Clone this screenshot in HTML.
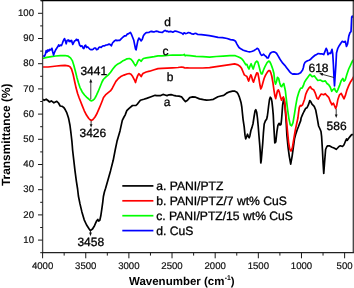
<!DOCTYPE html>
<html><head><meta charset="utf-8"><style>
html,body{margin:0;padding:0;background:#fff;width:354px;height:288px;overflow:hidden;}
svg{display:block;font-family:"Liberation Sans",sans-serif;will-change:transform;text-rendering:geometricPrecision;}
</style></head><body><svg width="354" height="288" viewBox="0 0 354 288"><rect x="0" y="0" width="354" height="288" fill="#fff"/><defs><clipPath id="pc"><rect x="42.6" y="0" width="311" height="253"/></clipPath></defs><g clip-path="url(#pc)"><polyline fill="none" stroke="#000000" stroke-width="1.7" stroke-linejoin="round" stroke-linecap="round" points="42.50,99.30 44.10,100.30 46.20,99.20 47.90,100.50 49.60,102.00 51.30,100.90 53.90,102.80 56.80,101.30 58.50,103.00 60.20,106.00 62.30,106.40 64.00,107.70 65.30,109.80 66.60,112.30 67.60,115.20 68.50,118.00 69.00,120.40 70.00,125.50 70.70,130.90 71.30,136.00 71.90,141.30 72.30,146.00 72.60,150.00 73.80,160.40 75.00,170.90 76.40,181.30 77.60,189.00 78.40,196.00 80.00,203.90 81.90,211.90 84.20,219.80 86.60,225.00 89.20,229.00 90.30,230.60 92.50,229.00 94.50,225.70 96.50,221.10 97.80,219.50 98.70,221.10 99.80,220.40 100.80,215.80 101.80,209.20 102.70,202.60 103.40,196.50 104.40,192.00 105.60,188.30 107.60,181.30 110.50,170.90 113.20,160.30 115.20,150.00 117.00,141.30 120.00,130.90 122.30,120.40 124.00,117.00 125.10,115.10 126.80,110.60 129.10,108.30 132.50,105.50 135.90,105.50 137.60,103.80 140.40,100.20 143.80,99.30 146.60,98.40 151.10,96.80 155.10,95.30 156.80,95.70 160.20,95.70 163.00,94.40 165.00,95.00 167.00,95.60 169.00,94.80 171.00,94.60 173.50,95.30 176.00,95.80 179.00,96.20 181.50,96.80 183.70,99.60 185.50,101.60 187.50,100.20 189.70,97.60 192.60,96.90 195.60,97.20 199.50,98.90 203.50,99.70 206.50,100.20 209.40,100.00 213.40,99.30 217.90,96.80 220.80,96.00 223.70,95.40 225.20,94.30 226.60,93.10 229.60,91.80 232.50,91.20 234.90,91.20 236.90,92.20 238.10,94.00 239.20,96.60 240.20,99.70 241.10,102.80 241.80,107.00 242.30,112.00 243.10,119.60 244.20,126.90 245.00,135.20 245.70,138.90 246.80,136.25 247.50,134.20 248.30,136.25 249.20,137.80 249.90,135.70 250.90,130.50 252.00,127.40 253.00,123.75 254.10,116.50 255.10,110.70 255.80,109.70 256.70,112.30 257.50,118.50 258.20,126.00 259.00,136.25 259.80,145.60 260.30,152.90 260.80,163.00 261.30,160.00 261.90,152.90 262.70,143.50 263.40,133.00 264.20,124.00 265.50,120.60 266.60,119.20 267.30,116.50 267.90,112.00 268.60,106.00 269.50,99.50 270.30,97.20 271.20,98.25 271.90,101.40 272.60,107.60 273.25,114.90 273.75,125.00 274.80,143.00 275.80,142.00 276.90,131.70 277.90,125.40 279.00,123.30 280.00,125.00 281.00,124.40 281.60,119.00 282.00,113.90 282.60,105.50 283.40,100.30 283.90,99.30 284.50,102.00 285.10,107.60 285.75,116.00 286.30,124.00 286.90,135.40 288.10,147.60 289.30,156.30 290.70,164.10 292.10,156.30 293.30,147.60 294.50,138.90 295.90,133.65 297.30,129.50 298.50,126.50 299.40,124.00 300.70,120.60 301.10,118.00 302.60,114.40 304.00,111.50 305.50,108.60 306.90,107.80 308.40,104.90 309.80,100.60 310.60,101.30 312.00,104.20 314.20,106.40 315.70,110.00 317.10,117.30 318.60,126.00 320.00,129.00 321.00,131.50 321.60,136.50 322.50,151.00 323.10,163.50 323.75,173.50 324.60,162.00 325.60,149.50 326.90,146.50 327.90,145.80 329.30,145.80 332.00,147.20 334.00,148.00 336.20,149.30 337.60,148.00 339.00,146.50 340.40,145.80 342.50,146.50 343.90,145.00 345.25,141.70 346.60,138.90 347.30,140.30 348.70,138.20 350.40,136.10 351.50,134.70 353.30,134.70"/><polyline fill="none" stroke="#ff0000" stroke-width="1.7" stroke-linejoin="round" stroke-linecap="round" points="42.50,67.00 48.00,67.00 52.50,66.50 56.70,66.00 60.80,65.60 65.00,65.40 68.00,65.80 70.00,66.70 71.50,69.00 73.10,74.30 74.60,81.20 76.10,88.10 77.60,93.50 79.20,98.00 80.30,100.80 82.10,105.40 84.30,110.80 86.60,115.30 88.80,118.50 90.20,119.80 91.40,120.40 92.60,119.80 93.80,118.50 95.00,117.00 96.00,115.30 97.20,113.00 98.30,110.40 99.50,107.60 100.60,105.00 101.60,102.50 102.50,100.20 103.50,97.50 105.50,94.90 107.90,92.90 110.40,90.90 111.50,89.50 112.30,88.20 113.50,85.80 115.90,81.40 118.40,78.50 120.80,76.60 124.00,75.10 127.00,74.00 129.30,73.50 131.00,74.30 132.70,76.60 134.40,79.80 135.50,82.50 136.60,78.60 137.80,75.40 138.90,73.70 140.00,74.90 141.20,76.60 142.30,74.30 143.40,73.20 146.20,72.00 149.60,71.20 154.20,69.80 158.00,68.60 162.00,68.30 172.50,67.80 178.00,67.50 181.50,67.00 183.50,67.40 185.00,68.00 187.00,67.80 190.00,68.00 196.00,68.00 202.80,68.00 209.60,67.60 216.30,66.60 223.10,65.60 229.90,64.60 234.60,63.90 238.00,64.90 240.20,66.50 241.70,68.60 242.80,71.25 244.30,74.90 245.90,75.90 246.90,76.50 248.00,79.60 248.70,81.10 249.75,77.50 250.80,74.90 251.60,76.50 252.70,80.60 253.50,82.20 254.50,79.00 255.80,75.40 256.80,72.80 257.90,73.30 258.90,78.50 260.00,85.30 260.80,89.00 261.80,86.90 262.90,82.70 264.10,78.50 265.20,75.90 266.00,74.40 267.10,72.60 268.70,70.50 269.70,70.50 270.80,72.60 271.80,76.25 272.90,82.50 273.90,89.80 274.90,96.00 275.70,98.60 276.50,95.00 277.50,90.80 278.40,89.80 279.40,92.40 280.50,97.10 281.50,100.20 282.50,98.10 283.40,97.00 284.30,99.70 284.80,103.30 285.50,110.60 286.30,118.00 287.20,128.00 288.60,142.30 289.80,149.30 291.00,151.00 292.40,147.60 293.80,138.90 295.30,130.20 296.50,124.50 297.90,118.00 298.60,112.30 299.30,107.40 300.40,105.40 301.40,105.90 302.50,104.90 303.50,102.30 304.60,99.20 305.70,94.40 307.30,90.70 308.85,88.10 310.40,86.60 311.50,88.60 312.50,89.20 313.70,89.80 315.30,93.20 317.00,98.20 318.30,99.00 319.50,96.50 321.20,94.00 323.70,94.80 325.30,93.70 327.00,95.70 328.70,97.30 330.30,101.50 332.00,104.80 333.30,103.20 334.50,105.70 335.70,108.40 336.70,105.70 337.80,99.80 339.50,94.80 341.20,93.40 342.80,96.50 344.00,98.80 345.30,95.70 347.00,89.80 348.70,85.70 350.30,82.30 352.00,79.80 353.80,76.50"/><polyline fill="none" stroke="#00ff00" stroke-width="1.7" stroke-linejoin="round" stroke-linecap="round" points="42.50,58.50 46.80,57.40 51.30,56.60 55.80,56.00 60.30,55.60 64.90,55.50 68.20,56.20 70.50,57.90 72.30,60.60 73.80,65.20 75.40,71.30 76.90,77.40 78.40,82.80 79.90,87.30 82.20,91.90 84.50,95.00 86.80,97.30 88.75,99.00 90.00,100.20 91.10,100.90 92.50,100.50 94.00,99.40 95.30,97.50 96.50,95.20 98.30,91.20 99.50,88.20 100.90,84.80 102.00,82.00 103.30,79.50 105.70,77.10 108.10,75.10 110.60,72.20 113.00,68.80 115.40,65.90 117.90,63.90 120.30,62.70 122.50,61.10 124.80,59.90 127.00,58.80 129.30,58.50 131.00,59.30 132.70,61.30 134.40,64.10 135.50,65.80 136.60,64.10 137.80,61.30 138.90,59.60 140.00,60.20 141.20,61.30 142.30,59.60 143.40,58.50 146.20,57.90 149.60,57.30 154.20,56.60 158.00,55.90 162.00,55.80 172.50,55.00 180.00,55.10 183.50,55.00 184.40,54.30 185.20,55.80 186.50,55.30 190.00,55.60 196.00,56.30 202.80,56.70 209.60,57.20 216.30,56.50 223.10,56.10 229.90,55.70 235.30,55.70 238.00,56.70 240.20,57.80 241.70,58.70 243.30,60.60 244.90,63.20 245.90,64.80 246.90,64.30 248.00,67.40 249.00,69.00 250.10,65.80 251.10,63.75 252.10,66.40 253.20,69.00 254.20,65.80 255.30,62.70 256.80,61.10 257.90,62.20 258.90,65.80 260.20,71.00 261.20,73.80 262.25,73.80 263.30,70.50 264.60,67.40 265.60,65.30 267.10,62.70 268.70,61.10 269.70,61.60 270.80,63.75 271.80,66.40 272.90,69.50 273.90,73.50 274.60,80.40 275.50,84.10 276.50,81.50 277.50,77.30 278.60,78.30 279.60,82.50 280.70,86.10 281.70,86.70 282.75,84.60 283.80,83.50 284.50,86.70 284.90,88.50 285.40,91.00 286.00,96.30 287.50,108.80 288.90,118.60 290.25,124.80 291.60,125.80 293.00,122.70 294.40,114.40 295.80,105.40 297.20,97.70 298.60,92.90 300.00,89.40 300.80,88.10 302.10,88.10 303.40,85.50 304.40,82.40 306.00,79.80 307.50,77.70 309.10,75.60 310.10,74.30 311.20,75.60 312.20,76.70 313.30,76.20 314.40,75.90 315.30,77.30 317.80,80.50 320.30,80.00 322.80,81.50 325.30,80.90 327.00,83.50 328.70,84.80 330.30,87.30 331.70,91.30 332.80,89.80 334.50,88.30 335.30,90.50 336.70,92.20 337.80,89.80 339.50,85.70 341.20,80.80 342.80,78.40 344.00,81.20 345.30,79.80 347.00,74.00 348.70,69.00 350.30,65.70 351.50,63.00 352.80,60.50 353.80,59.50"/><polyline fill="none" stroke="#0000ff" stroke-width="1.7" stroke-linejoin="round" stroke-linecap="round" points="42.50,55.70 44.50,56.20 45.40,54.00 46.20,50.60 47.00,52.30 47.90,50.00 48.80,51.00 49.60,49.50 50.70,50.00 51.90,48.30 52.70,51.70 53.60,55.10 54.50,52.30 55.60,50.00 56.70,48.30 57.90,46.60 58.60,45.00 59.40,46.10 60.30,45.00 61.50,45.50 62.40,43.30 63.20,41.00 64.00,39.30 64.60,38.70 65.40,41.00 66.20,43.80 67.10,40.40 68.20,39.90 69.20,41.60 69.90,40.40 70.80,41.60 71.60,40.40 72.80,44.40 73.70,42.70 74.50,41.00 75.60,40.40 76.40,39.30 77.30,40.40 78.00,39.60 79.00,42.70 79.70,45.20 80.80,46.30 82.00,45.80 83.10,48.00 83.90,48.60 84.80,45.80 85.70,45.20 86.50,47.50 87.60,46.90 88.70,48.00 89.90,49.20 91.00,49.70 92.10,49.70 93.20,49.20 94.40,48.00 95.50,48.00 96.60,49.70 97.80,49.20 98.90,47.50 100.00,46.90 101.20,47.50 102.30,46.30 103.40,45.80 104.60,45.80 105.70,45.20 106.80,45.00 107.90,44.60 109.10,44.10 110.20,44.60 111.30,45.80 112.50,43.00 113.60,41.80 114.70,40.70 115.90,40.10 117.00,40.70 118.00,40.30 119.70,40.30 121.40,38.60 123.10,37.00 124.80,35.80 126.10,35.80 127.30,34.10 128.70,33.60 130.40,32.40 131.60,34.70 132.70,37.50 133.80,40.30 134.70,44.90 135.50,48.80 136.10,49.90 137.00,44.90 137.80,40.90 138.90,38.10 140.00,39.20 141.20,40.90 142.30,39.20 143.40,35.80 144.60,34.10 146.20,32.60 148.80,32.50 150.20,31.60 151.60,31.30 153.00,31.90 154.50,31.80 156.00,31.20 157.30,31.30 158.70,31.90 160.10,32.20 162.20,32.50 163.70,31.30 165.10,30.40 166.50,31.30 167.50,31.20 168.60,31.80 170.70,31.30 172.80,32.20 175.00,31.00 176.40,31.30 177.80,31.80 179.90,32.50 182.00,33.20 183.00,34.30 184.10,32.80 185.50,33.60 187.00,33.20 188.40,32.50 189.80,32.80 191.20,33.60 193.30,34.20 194.60,33.50 196.00,33.40 197.50,34.30 201.40,34.70 205.40,35.10 209.30,35.60 213.30,36.40 218.10,37.30 222.60,37.70 227.10,38.50 230.50,39.60 233.90,40.20 235.60,41.30 236.70,43.60 237.90,45.80 239.00,47.50 240.00,48.20 241.20,49.00 243.30,50.20 245.40,50.90 247.50,51.50 249.50,51.80 251.60,51.50 253.70,50.70 255.80,49.40 257.40,48.30 258.40,49.20 259.40,51.25 260.50,53.90 261.50,55.40 262.60,54.90 263.60,54.20 264.60,55.40 266.10,56.50 267.10,58.00 268.20,58.00 269.20,55.40 270.25,53.30 271.80,52.30 273.40,51.80 274.90,52.10 276.50,53.30 278.10,55.90 279.60,58.50 281.20,61.10 282.75,63.20 284.80,65.30 286.40,67.40 288.00,69.50 289.50,71.60 291.10,73.10 292.60,74.10 294.00,73.90 296.10,74.20 298.20,74.00 300.60,72.80 302.60,70.00 303.40,67.50 304.00,64.50 305.00,62.40 306.30,61.40 307.50,60.70 309.10,60.20 310.70,59.20 312.20,57.60 313.80,56.25 315.40,55.00 316.50,54.60 318.20,53.50 320.20,53.90 322.30,53.90 323.70,54.60 325.10,51.10 326.20,48.30 327.20,50.40 327.90,54.60 329.30,53.20 330.60,53.50 331.40,51.00 332.00,49.40 332.75,53.90 333.40,64.75 334.00,77.90 334.50,85.90 335.00,77.90 335.90,64.75 336.50,53.00 337.80,48.30 339.20,45.70 341.00,43.00 342.30,41.30 344.10,42.20 345.30,41.30 346.50,46.50 347.60,43.90 348.80,36.10 350.00,32.60 351.00,31.70 351.40,23.90 351.70,17.00 352.40,16.10 353.00,17.00"/></g><path d="M42.6,252.7 L42.6,0.5" fill="none" stroke="#464646" stroke-width="1.3"/><path d="M353.3,0.5 L353.3,252.7" fill="none" stroke="#404040" stroke-width="1.3"/><path d="M41.95,252.7 L353.95,252.7" fill="none" stroke="#222" stroke-width="1.3"/><path d="M41.1,0.6 L354,0.6" fill="none" stroke="#000" stroke-width="1.5"/><path d="M38,240.10H42.6M38,214.90H42.6M38,189.70H42.6M38,164.50H42.6M38,139.30H42.6M38,114.10H42.6M38,88.90H42.6M38,63.70H42.6M38,38.50H42.6M38,13.30H42.6M40.2,252.70H42.6M40.2,227.50H42.6M40.2,202.30H42.6M40.2,177.10H42.6M40.2,151.90H42.6M40.2,126.70H42.6M40.2,101.50H42.6M40.2,76.30H42.6M40.2,51.10H42.6M40.2,25.90H42.6M40.2,0.70H42.6M344.62,252.7V258.3M301.47,252.7V258.3M258.33,252.7V258.3M215.18,252.7V258.3M172.03,252.7V258.3M128.89,252.7V258.3M85.75,252.7V258.3M42.60,252.7V258.3M323.04,252.7V255.6M279.90,252.7V255.6M236.75,252.7V255.6M193.61,252.7V255.6M150.46,252.7V255.6M107.32,252.7V255.6M64.17,252.7V255.6" stroke="#1a1a1a" stroke-width="1" fill="none"/><g font-family="Liberation Sans, sans-serif" font-size="9.6" fill="#111" stroke="#111" stroke-width="0.2"><text x="34" y="242.70" text-anchor="end">10</text><text x="34" y="217.50" text-anchor="end">20</text><text x="34" y="192.30" text-anchor="end">30</text><text x="34" y="167.10" text-anchor="end">40</text><text x="34" y="141.90" text-anchor="end">50</text><text x="34" y="116.70" text-anchor="end">60</text><text x="34" y="91.50" text-anchor="end">70</text><text x="34" y="66.30" text-anchor="end">80</text><text x="34" y="41.10" text-anchor="end">90</text><text x="34" y="15.90" text-anchor="end">100</text><text x="344.62" y="268.8" text-anchor="middle">500</text><text x="301.47" y="268.8" text-anchor="middle">1000</text><text x="258.33" y="268.8" text-anchor="middle">1500</text><text x="215.18" y="268.8" text-anchor="middle">2000</text><text x="172.03" y="268.8" text-anchor="middle">2500</text><text x="128.89" y="268.8" text-anchor="middle">3000</text><text x="85.75" y="268.8" text-anchor="middle">3500</text><text x="42.60" y="268.8" text-anchor="middle">4000</text></g><text font-family="Liberation Sans, sans-serif" font-weight="bold" font-size="11.5" fill="#000" x="129.0" y="284.9">Wavenumber (cm<tspan font-size="6.8" dy="-5.2" dx="0.2">-1</tspan><tspan dy="5.2">)</tspan></text><text font-family="Liberation Sans, sans-serif" font-weight="bold" font-size="11.9" fill="#000" transform="translate(9.8,134.8) rotate(-90)" text-anchor="middle">Transmittance (%)</text><g font-family="Liberation Sans, sans-serif" font-size="12" fill="#000" stroke="#000" stroke-width="0.3"><text x="163.7" y="105.9">a</text><text x="166.7" y="80.7">b</text><text x="162.5" y="54.6">c</text><text x="164.2" y="26.1">d</text><text x="80.4" y="74.8">3441</text><text x="79.5" y="136.8">3426</text><text x="77.4" y="245.6">3458</text><text x="308.5" y="71.9">618</text><text x="326.6" y="130.1">586</text></g><path d="M90.8,99.5V81.5" stroke="#222" stroke-width="0.9"/><path d="M89.3,82.6L90.8,78.8L92.3,82.6Z" fill="#111"/><path d="M91.1,120.6V125" stroke="#222" stroke-width="0.9"/><path d="M89.7,124.3L91.1,127.6L92.5,124.3Z" fill="#111"/><path d="M90.5,230.8V234" stroke="#222" stroke-width="0.9"/><path d="M89.1,232.6L90.5,236.2L91.9,232.6Z" fill="#111"/><path d="M336.2,108.8V115" stroke="#222" stroke-width="0.9"/><path d="M334.8,114.5L336.2,118.1L337.6,114.5Z" fill="#111"/><path d="M334,77.5L322.2,74.3" stroke="#222" stroke-width="0.9"/><path d="M319.2,73.3L323.2,72.9L322.4,75.9Z" fill="#111"/><path d="M122.3,185.90H153.4" stroke="#000000" stroke-width="1.7"/><text font-family="Liberation Sans, sans-serif" font-size="12.15" fill="#000" stroke="#000" stroke-width="0.3" x="156.2" y="190.00">a. PANI/PTZ</text><path d="M122.3,200.80H153.4" stroke="#ff0000" stroke-width="1.7"/><text font-family="Liberation Sans, sans-serif" font-size="12.15" fill="#000" stroke="#000" stroke-width="0.3" x="156.2" y="204.90">b. PANI/PTZ/7 wt% CuS</text><path d="M122.3,215.70H153.4" stroke="#00ff00" stroke-width="1.7"/><text font-family="Liberation Sans, sans-serif" font-size="12.15" fill="#000" stroke="#000" stroke-width="0.3" x="156.2" y="219.80">c. PANI/PTZ/15 wt% CuS</text><path d="M122.3,230.60H153.4" stroke="#0000ff" stroke-width="1.7"/><text font-family="Liberation Sans, sans-serif" font-size="12.15" fill="#000" stroke="#000" stroke-width="0.3" x="156.2" y="234.70">d. CuS</text></svg></body></html>
